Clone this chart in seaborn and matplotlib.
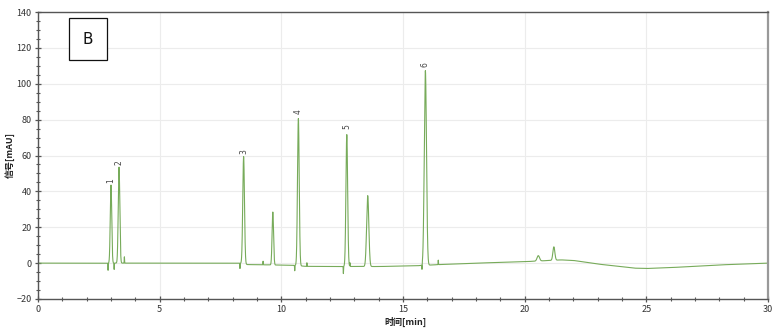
import numpy as np
import pandas as pd
import matplotlib
matplotlib.use("Agg")
import matplotlib.pyplot as plt
import seaborn as sns
from matplotlib.ticker import MultipleLocator

# ---- data ----
peak_times   = [3.00, 3.33, 8.45, 9.65, 10.70, 12.69, 13.55, 15.92, 20.56, 21.20]
peak_heights = [43.5, 53.5, 59.8, 29.5, 82.0, 73.5, 39.5, 108.5, 3.0, 7.5]
peak_sigmas  = [0.030, 0.032, 0.035, 0.030, 0.035, 0.035, 0.045, 0.045, 0.05, 0.04]
peak_labels  = ["1", "2", "3", "", "4", "5", "", "6", "", ""]

spike_times   = [2.88, 3.13, 3.55, 8.30, 9.25, 10.55, 11.05, 12.55, 12.82, 15.78, 16.45]
spike_heights = [-4.0, -3.5, 3.5, -3.0, 2.0, -3.0, 2.0, -4.0, 2.0, -3.0, 2.5]

base_times  = [0, 8.3, 8.6, 10.5, 11, 14, 15.5, 16.5, 18, 20, 21.5, 22, 23, 24.5, 25, 26, 28, 30]
base_values = [0, 0, -0.8, -1.2, -1.8, -1.9, -1.5, -0.8, 0, 0.8, 1.8, 1.5, -0.5, -2.8, -3.0, -2.5, -1, 0]

x_ticks = [0, 5, 10, 15, 20, 25, 30]
y_ticks = [-20, 0, 20, 40, 60, 80, 100, 120, 140]

# ---- build signal ----
t = np.linspace(0, 30, 12001)
sig = np.interp(t, base_times, base_values)
for tr, h, s in zip(peak_times, peak_heights, peak_sigmas):
    sig = sig + h * np.exp(-0.5 * ((t - tr) / s) ** 2)
for tr, h in zip(spike_times, spike_heights):
    sig = sig + h * np.exp(-0.5 * ((t - tr) / 0.006) ** 2)
df = pd.DataFrame({"time": t, "signal": sig})

sns.set_theme(style="white")
plt.rcParams["font.family"] = ["Noto Sans CJK SC", "DejaVu Sans"]

fig = plt.figure(figsize=(7.84, 3.35), dpi=100)
ax = fig.add_axes([38 / 784, 1 - 299 / 335, (768 - 38) / 784, (299 - 12) / 335])

ax.set_xlim(0, 30)
ax.set_ylim(-20, 140)
ax.set_xticks(x_ticks)
ax.set_yticks(y_ticks)
ax.xaxis.set_minor_locator(MultipleLocator(1))
ax.yaxis.set_minor_locator(MultipleLocator(5))
ax.grid(True, which="major", color="#ececec", linewidth=0.8)
ax.set_axisbelow(True)

sns.lineplot(data=df, x="time", y="signal", ax=ax, color="#77ab5a",
             linewidth=0.8, estimator=None, sort=False)

for tr, h, lab in zip(peak_times, peak_heights, peak_labels):
    if lab:
        ax.text(tr, h + 1.0, lab, rotation=90, ha="center", va="bottom",
                fontsize=5.5, color="#444444", family=["DejaVu Sans"])

ax.tick_params(axis="both", which="major", direction="inout", length=5,
               width=0.9, color="#555555", labelsize=6.5, labelcolor="#333333", pad=2)
ax.tick_params(axis="both", which="minor", direction="inout", length=3,
               width=0.8, color="#555555")
ax.tick_params(axis="y", which="both", right=False, left=True)
ax.tick_params(axis="x", which="both", top=False, bottom=True)

for side in ["left", "bottom", "top"]:
    ax.spines[side].set_color("#555555")
    ax.spines[side].set_linewidth(1.0)
ax.spines["right"].set_color("#999999")
ax.spines["right"].set_linewidth(1.6)

ax.set_xlabel("时间[min]", fontsize=6.5, fontweight="bold", color="#222222")
ax.xaxis.label.set_horizontalalignment("left")
ax.xaxis.set_label_coords((384 - 38) / 730, -0.062)
ax.set_ylabel("信号[mAU]", fontsize=6.5, fontweight="bold", color="#222222")
ax.yaxis.set_label_coords(-0.032, 0.5)

fig.text((68 + 108) / 2 / 784, 1 - 39 / 335, "B", ha="center", va="center",
         fontsize=11, color="#111111", family=["DejaVu Sans"],
         bbox=dict(boxstyle="square,pad=0.9", facecolor="white",
                   edgecolor="#111111", linewidth=0.9))

fig.savefig("out.png", dpi=100)
